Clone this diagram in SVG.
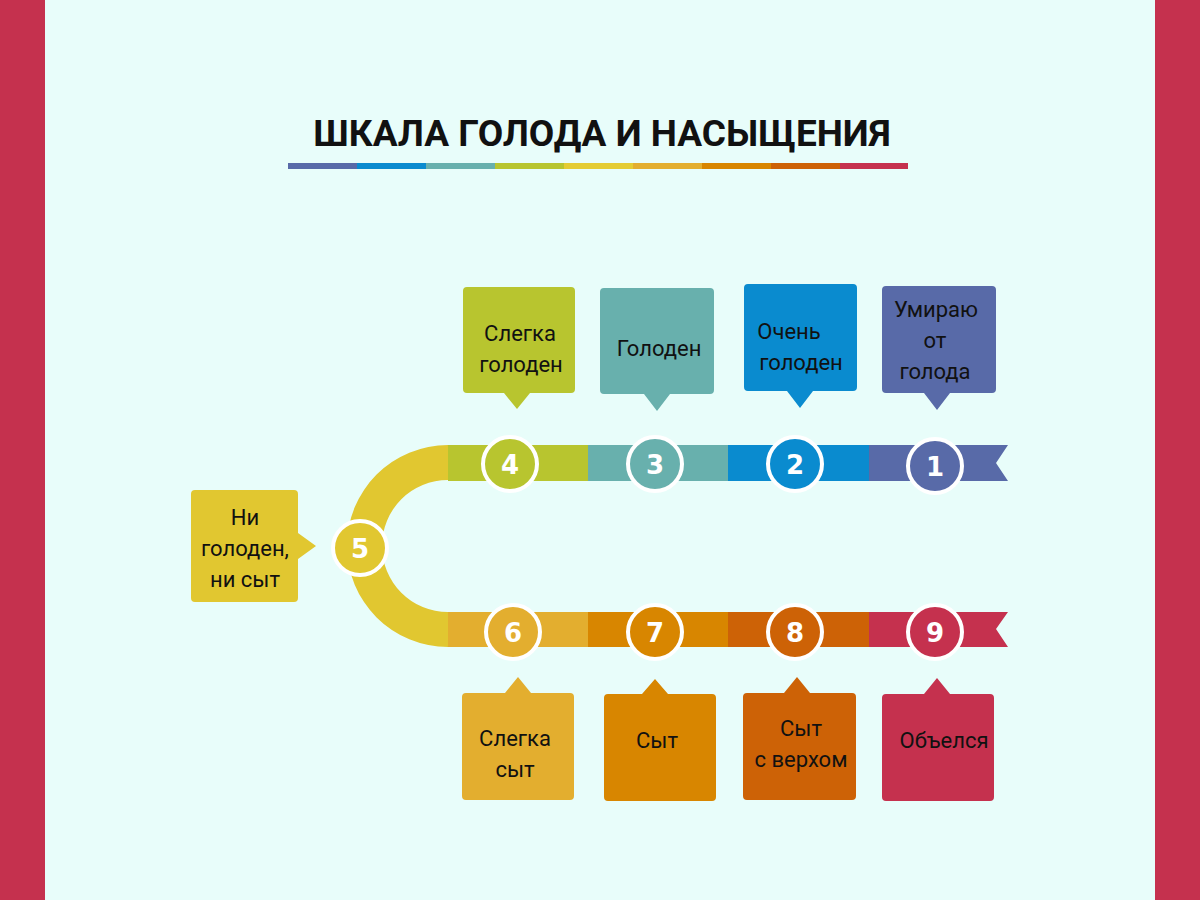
<svg xmlns="http://www.w3.org/2000/svg" width="1200" height="900" viewBox="0 0 1200 900">
<style>
.lbl{font-family:Roboto,"Liberation Sans",sans-serif;font-size:22px;fill:#111;text-anchor:middle}
.num{font-family:"DejaVu Sans",sans-serif;font-weight:bold;font-size:26px;fill:#fff;text-anchor:middle}
.ring{stroke:#fff;stroke-width:4}
</style>
<rect width="1200" height="900" fill="#e8fdfa"/>
<rect x="0" y="0" width="45" height="900" fill="#c5314e"/>
<rect x="1155" y="0" width="45" height="900" fill="#c5314e"/>
<text x="602" y="146" font-family="Roboto,'Liberation Sans',sans-serif" font-weight="bold" font-size="37" text-anchor="middle" fill="#111">ШКАЛА ГОЛОДА И НАСЫЩЕНИЯ</text>
<g id="underline">
<rect x="288" y="163" width="69" height="6" fill="#586aa8"/>
<rect x="357" y="163" width="69" height="6" fill="#0a8bcf"/>
<rect x="426" y="163" width="69" height="6" fill="#68b0ad"/>
<rect x="495" y="163" width="69" height="6" fill="#b8c52f"/>
<rect x="564" y="163" width="69" height="6" fill="#e4cc33"/>
<rect x="633" y="163" width="69" height="6" fill="#e3ae2f"/>
<rect x="702" y="163" width="69" height="6" fill="#d88600"/>
<rect x="771" y="163" width="69" height="6" fill="#cd6206"/>
<rect x="840" y="163" width="68" height="6" fill="#c5314e"/>
</g>
<g id="connectors">
<path d="M448 445 A101 101 0 0 0 448 647 L448 612 A66 66 0 0 1 448 480 Z" fill="#e1c730"/>
<rect x="448" y="445" width="140" height="36" fill="#b8c52f"/>
<rect x="588" y="445" width="140" height="36" fill="#68b0ad"/>
<rect x="728" y="445" width="141" height="36" fill="#0a8bcf"/>
<path d="M869 445 H1008 L996 463 L1008 481 H869 Z" fill="#586aa8"/>
<rect x="448" y="612" width="140" height="35" fill="#e3ae2f"/>
<rect x="588" y="612" width="140" height="35" fill="#d88600"/>
<rect x="728" y="612" width="141" height="35" fill="#cd6206"/>
<path d="M869 612 H1008 L996 629 L1008 647 H869 Z" fill="#c5314e"/>
</g>
<g id="n4"><circle class="ring" cx="510" cy="464" r="27" fill="#b8c52f"/><text class="num" x="510" y="474">4</text>
<path d="M468 287 H571 a4 4 0 0 1 4 4 V389 a4 4 0 0 1 -4 4 H530 L517 409 L504 393 H467 a4 4 0 0 1 -4 -4 V291 a4 4 0 0 1 4 -4Z" fill="#b8c52f"/>
<text class="lbl" x="520" y="341">Слегка</text><text class="lbl" x="521" y="372">голоден</text></g>
<g id="n3"><circle class="ring" cx="655" cy="464" r="27" fill="#68b0ad"/><text class="num" x="655" y="474">3</text>
<path d="M604 288 H710 a4 4 0 0 1 4 4 V390 a4 4 0 0 1 -4 4 H670 L657 411 L644 394 H604 a4 4 0 0 1 -4 -4 V292 a4 4 0 0 1 4 -4Z" fill="#68b0ad"/>
<text class="lbl" x="659" y="356">Голоден</text></g>
<g id="n2"><circle class="ring" cx="795" cy="464" r="27" fill="#0a8bcf"/><text class="num" x="795" y="474">2</text>
<path d="M748 284 H853 a4 4 0 0 1 4 4 V387 a4 4 0 0 1 -4 4 H813 L800 408 L787 391 H748 a4 4 0 0 1 -4 -4 V288 a4 4 0 0 1 4 -4Z" fill="#0a8bcf"/>
<text class="lbl" x="789" y="339">Очень</text><text class="lbl" x="801" y="370">голоден</text></g>
<g id="n1"><circle class="ring" cx="935" cy="466" r="27" fill="#586aa8"/><text class="num" x="935" y="476">1</text>
<path d="M886 286 H992 a4 4 0 0 1 4 4 V389 a4 4 0 0 1 -4 4 H950 L937 410 L924 393 H886 a4 4 0 0 1 -4 -4 V290 a4 4 0 0 1 4 -4Z" fill="#586aa8"/>
<text class="lbl" x="936" y="317">Умираю</text><text class="lbl" x="935" y="348">от</text><text class="lbl" x="935" y="379">голода</text></g>
<g id="n5"><circle class="ring" cx="360" cy="548" r="27" fill="#e1c730"/><text class="num" x="360" y="558">5</text>
<path d="M195 490 H294 a4 4 0 0 1 4 4 V533 L316 546 L298 559 V598 a4 4 0 0 1 -4 4 H195 a4 4 0 0 1 -4 -4 V494 a4 4 0 0 1 4 -4Z" fill="#e1c730"/>
<text class="lbl" x="245" y="525">Ни</text><text class="lbl" x="245" y="556">голоден,</text><text class="lbl" x="245" y="587">ни сыт</text></g>
<g id="n6"><circle class="ring" cx="513" cy="632" r="27" fill="#e3ae2f"/><text class="num" x="513" y="642">6</text>
<path d="M466 693 H505 L518 677 L531 693 H570 a4 4 0 0 1 4 4 V796 a4 4 0 0 1 -4 4 H466 a4 4 0 0 1 -4 -4 V697 a4 4 0 0 1 4 -4Z" fill="#e3ae2f"/>
<text class="lbl" x="515" y="746">Слегка</text><text class="lbl" x="515" y="777">сыт</text></g>
<g id="n7"><circle class="ring" cx="655" cy="632" r="27" fill="#d88600"/><text class="num" x="655" y="642">7</text>
<path d="M608 694 H642 L655 679 L668 694 H712 a4 4 0 0 1 4 4 V797 a4 4 0 0 1 -4 4 H608 a4 4 0 0 1 -4 -4 V698 a4 4 0 0 1 4 -4Z" fill="#d88600"/>
<text class="lbl" x="657" y="748">Сыт</text></g>
<g id="n8"><circle class="ring" cx="795" cy="632" r="27" fill="#cd6206"/><text class="num" x="795" y="642">8</text>
<path d="M747 693 H784 L797 677 L810 693 H852 a4 4 0 0 1 4 4 V796 a4 4 0 0 1 -4 4 H747 a4 4 0 0 1 -4 -4 V697 a4 4 0 0 1 4 -4Z" fill="#cd6206"/>
<text class="lbl" x="801" y="736">Сыт</text><text class="lbl" x="801" y="767">с верхом</text></g>
<g id="n9"><circle class="ring" cx="935" cy="632" r="27" fill="#c5314e"/><text class="num" x="935" y="642">9</text>
<path d="M886 694 H924 L937 678 L950 694 H990 a4 4 0 0 1 4 4 V797 a4 4 0 0 1 -4 4 H886 a4 4 0 0 1 -4 -4 V698 a4 4 0 0 1 4 -4Z" fill="#c5314e"/>
<text class="lbl" x="944" y="748">Объелся</text></g>
</svg>
